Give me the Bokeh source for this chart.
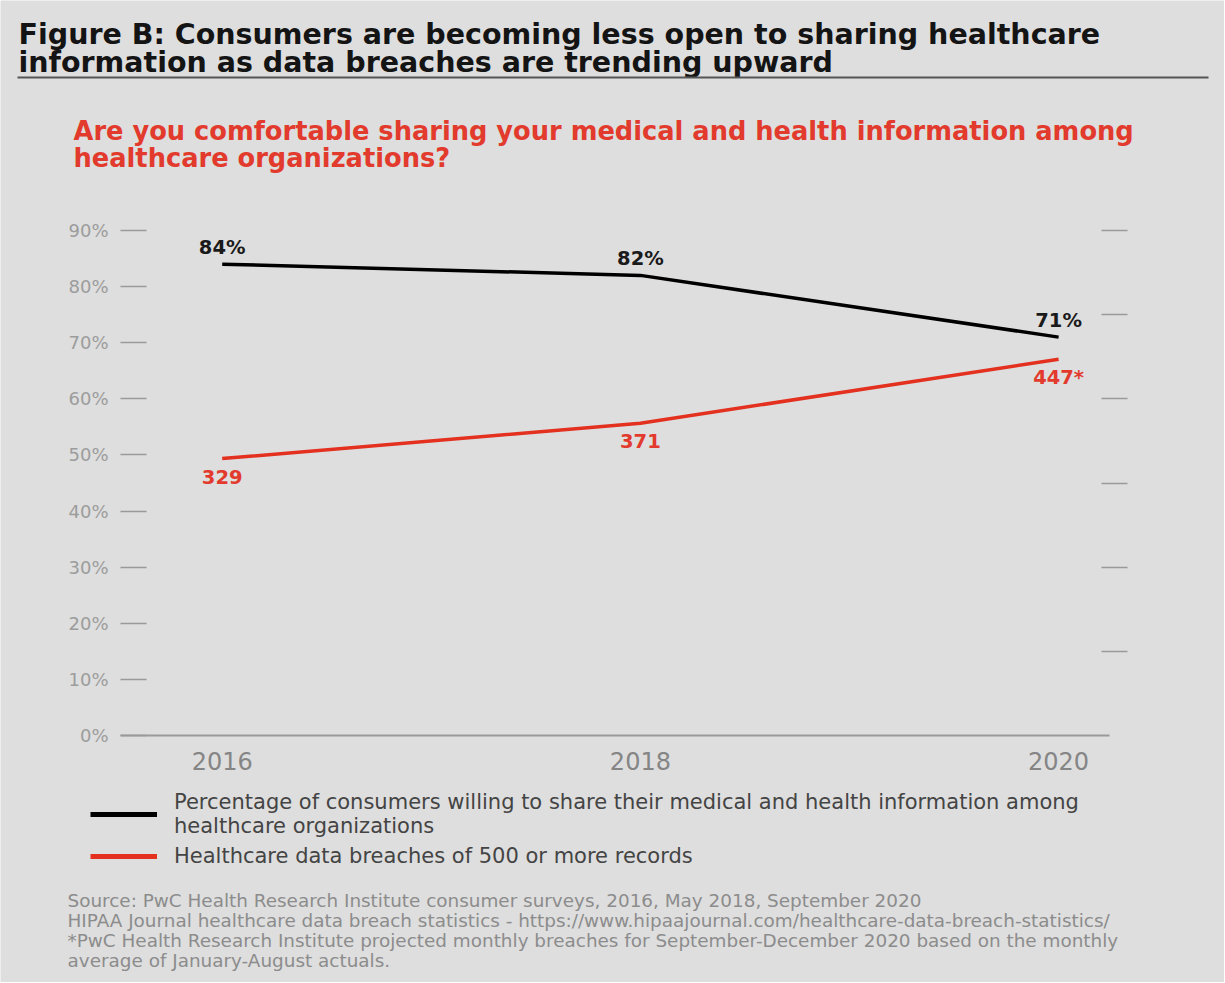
from bokeh.plotting import figure
from bokeh.models import (ColumnDataSource, Range1d, LinearAxis, FixedTicker,
                          PrintfTickFormatter, Legend, LegendItem, Label, BoxAnnotation)
from bokeh.core.properties import value
from bokeh.embed import file_html
from bokeh.resources import INLINE

# ---------------- data ----------------
years = [2016, 2018, 2020]
share_pct = [84, 82, 71]
share_labels = ["84%", "82%", "71%"]
breaches = [329, 371, 447]
breach_labels = ["329", "371", "447*"]
pct_ticks = [0, 10, 20, 30, 40, 50, 60, 70, 80, 90]
breach_ticks = [100, 200, 300, 400, 500, 600]
breach_max = 600  # right scale top, aligned with 90 %
pct_max = 90

title_lines = ["Figure B: Consumers are becoming less open to sharing healthcare",
               "information as data breaches are trending upward"]
subtitle_lines = ["Are you comfortable sharing your medical and health information among",
                  "healthcare organizations?"]
legend_labels = ["Percentage of consumers willing to share their medical and health information among\nhealthcare organizations",
                 "Healthcare data breaches of 500 or more records"]
source_lines = ["Source: PwC Health Research Institute consumer surveys, 2016, May 2018, September 2020",
                "HIPAA Journal healthcare data breach statistics - https://www.hipaajournal.com/healthcare-data-breach-statistics/",
                "*PwC Health Research Institute projected monthly breaches for September-December 2020 based on the monthly",
                "average of January-August actuals."]

# ---------------- styling / geometry ----------------
BG = "#dedede"
RED = "#e3301f"
RED_TXT = "#e23a2c"
AX = "#9a9a9a"
FONT = "DejaVu Sans"
W, H = 1224, 982
X_FIRST_PX, PX_PER_YEAR = 221.7, 209.1      # pixel of first year, pixels per year
Y_ZERO_PX, PX_PER_PCT = 735.0, 505.0 / 90   # pixel of 0 %, pixels per percent
AXIS_LEFT_PX, AXIS_RIGHT_PX = 120, 1109

def x_at(px):
    return years[0] + (px - X_FIRST_PX) / PX_PER_YEAR

y_lo = -(H - Y_ZERO_PX) / PX_PER_PCT
y_hi = Y_ZERO_PX / PX_PER_PCT
ratio = breach_max / pct_max

p = figure(width=W, height=H, output_backend="svg", toolbar_location=None,
           x_range=Range1d(x_at(0), x_at(W)), y_range=Range1d(y_lo, y_hi),
           min_border=0, background_fill_color=BG, border_fill_color=BG,
           outline_line_color=None, x_axis_location=None, y_axis_location=None)
p.xgrid.visible = False
p.ygrid.visible = False
p.extra_y_ranges = {"breaches": Range1d(y_lo * ratio, y_hi * ratio)}

# left axis (percent)
yax = LinearAxis(ticker=FixedTicker(ticks=pct_ticks), formatter=PrintfTickFormatter(format="%d%%"),
                 fixed_location=x_at(AXIS_LEFT_PX), bounds=(0, pct_max))
yax.axis_line_color = None
yax.major_tick_in = 26
yax.major_tick_out = 0
yax.major_tick_line_color = AX
yax.major_tick_line_width = 1.5
yax.minor_tick_line_color = None
yax.major_label_standoff = 12
yax.major_label_text_font = FONT
yax.major_label_text_font_size = "18px"
yax.major_label_text_color = "#9c9c9c"
p.add_layout(yax, "left")

# right axis (breaches, unlabeled ticks)
rax = LinearAxis(y_range_name="breaches", ticker=FixedTicker(ticks=breach_ticks),
                 fixed_location=x_at(AXIS_RIGHT_PX), bounds=(0, breach_max))
rax.axis_line_color = None
rax.major_tick_in = 8
rax.major_tick_out = 18
rax.major_tick_line_color = AX
rax.major_tick_line_width = 1.5
rax.minor_tick_line_color = None
rax.major_label_text_font_size = "0px"
rax.major_label_text_color = None
p.add_layout(rax, "right")

# bottom axis (years)
xax = LinearAxis(ticker=FixedTicker(ticks=years), formatter=PrintfTickFormatter(format="%d"),
                 fixed_location=0, bounds=(x_at(AXIS_LEFT_PX), x_at(AXIS_RIGHT_PX)))
xax.axis_line_color = AX
xax.axis_line_width = 2
xax.major_tick_line_color = None
xax.minor_tick_line_color = None
xax.major_label_standoff = 10
xax.major_label_text_font = FONT
xax.major_label_text_font_size = "24px"
xax.major_label_text_color = "#858585"
p.add_layout(xax, "below")

# series
src_s = ColumnDataSource(dict(x=years, y=share_pct, t=share_labels))
src_b = ColumnDataSource(dict(x=years, y=breaches, t=breach_labels))
p.line("x", "y", source=src_s, line_color="#000000", line_width=3.5)
p.line("x", "y", source=src_b, line_color=RED, line_width=3.5, y_range_name="breaches")
p.text("x", "y", text="t", source=src_s, text_align="center", text_baseline="middle",
       y_offset=-17, text_font=value(FONT), text_font_style="bold", text_font_size="19.5px",
       text_color="#1a1a1a")
p.text("x", "y", text="t", source=src_b, text_align="center", text_baseline="middle",
       y_offset=18, text_font=value(FONT), text_font_style="bold", text_font_size="19.5px",
       text_color=RED_TXT, y_range_name="breaches")

# legend (hidden thicker copies of the series supply the swatches)
lg1 = p.line("x", "y", source=src_s, line_color="#000000", line_width=5, visible=False)
lg2 = p.line("x", "y", source=src_b, line_color=RED, line_width=5, visible=False,
             y_range_name="breaches")
legend = Legend(items=[LegendItem(label=legend_labels[0], renderers=[lg1]),
                       LegendItem(label=legend_labels[1], renderers=[lg2])],
                location=(90, 114), orientation="vertical", click_policy="none",
                background_fill_alpha=0, border_line_color=None,
                padding=0, margin=0, spacing=6, glyph_width=67, glyph_height=20,
                label_standoff=17, label_text_font=FONT, label_text_font_size="21px",
                label_text_color="#444444")
p.add_layout(legend, "center")

# texts placed in screen pixels (x from left, y measured from the top of the page)
def add_text(txt, px, py, size, color, bold=False):
    p.add_layout(Label(x=px, y=H - py, x_units="screen", y_units="screen", text=txt,
                       text_font=FONT, text_font_size=size, text_color=color,
                       text_font_style="bold" if bold else "normal",
                       text_baseline="alphabetic", text_align="left"))

add_text(title_lines[0], 18, 34, "28.5px", "#141414", True)
add_text(title_lines[1], 18, 62, "28.5px", "#141414", True)
p.add_layout(BoxAnnotation(left=17, right=1208, bottom=H - 78, top=H - 76,
                           left_units="screen", right_units="screen",
                           bottom_units="screen", top_units="screen",
                           fill_color="#555555", fill_alpha=1, line_color=None))
add_text(subtitle_lines[0], 73, 130, "25.7px", RED_TXT, True)
add_text(subtitle_lines[1], 73, 157, "25.7px", RED_TXT, True)
for i, s in enumerate(source_lines):
    add_text(s, 67, 900 + 20 * i, "18.4px", "#8c8c8c")

open("out.html", "w").write(file_html(p, INLINE))
